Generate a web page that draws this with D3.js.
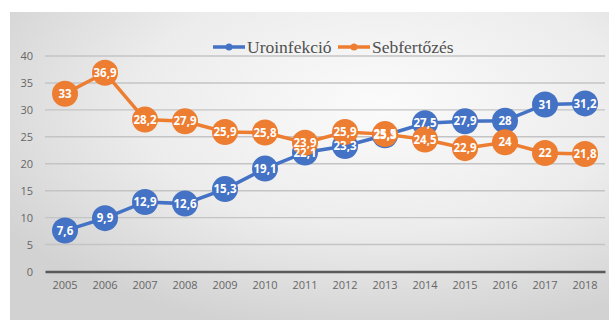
<!DOCTYPE html>
<html><head><meta charset="utf-8">
<script src="https://cdn.jsdelivr.net/npm/d3@7"></script>
<style>html,body{margin:0;padding:0;background:#fff;}svg{display:block;}</style>
</head><body>
<svg id="chart" width="609" height="320"></svg>
<script>
const years = ["2005","2006","2007","2008","2009","2010","2011","2012","2013","2014","2015","2016","2017","2018"];
const uroinfekcio = [7.6, 9.9, 12.9, 12.6, 15.3, 19.1, 22.1, 23.3, 25.3, 27.5, 27.9, 28, 31, 31.2];
const sebfertozes = [33, 36.9, 28.2, 27.9, 25.9, 25.8, 23.9, 25.9, 25.5, 24.5, 22.9, 24, 22, 21.8];
const yTicks = [0, 5, 10, 15, 20, 25, 30, 35, 40];
const seriesNames = ["Uroinfekció", "Sebfertőzés"];
const colors = ["#4472C4", "#ED7D31"];

const svg = d3.select("#chart");
const defs = svg.append("defs");
const grad = defs.append("radialGradient").attr("id","bg")
  .attr("cx","62%").attr("cy","30%").attr("r","75%");
grad.append("stop").attr("offset","0%").attr("stop-color","#fbfbfb");
grad.append("stop").attr("offset","55%").attr("stop-color","#ececec");
grad.append("stop").attr("offset","100%").attr("stop-color","#d2d2d2");
svg.append("rect").attr("x",10).attr("y",12).attr("width",599).attr("height",308).attr("fill","url(#bg)");

const x = d3.scaleBand().domain(years).range([45, 605]);
const y = d3.scaleLinear().domain([0, 40]).range([271.5, 56]);

// gridlines
svg.append("g").selectAll("line").data(yTicks.filter(d => d > 0)).join("line")
  .attr("x1", 45).attr("x2", 605)
  .attr("y1", d => y(d)).attr("y2", d => y(d))
  .attr("stroke", "#c4c4c4").attr("stroke-width", 1.4);

// y axis labels
const yAxis = d3.axisLeft(y).tickValues(yTicks).tickSize(0).tickPadding(0);
const gy = svg.append("g").attr("transform","translate(33,0)").call(yAxis);
gy.select(".domain").remove();
gy.selectAll("text").attr("font-family","'Open Sans', sans-serif").attr("font-size",11).attr("fill","#666");

// x axis
const xAxis = d3.axisBottom(x).tickSize(0).tickPadding(0);
const gx = svg.append("g").attr("transform", `translate(0,${y(0)})`).call(xAxis);
gx.select(".domain").attr("stroke","#5a5a5a").attr("stroke-width",2.6);
gx.selectAll("text").attr("dy", "1.55em").attr("font-family","'Open Sans', sans-serif").attr("font-size",11).attr("fill","#666");

const fmt = v => String(v).replace(".", ",");
const data = [uroinfekcio, sebfertozes];
const line = d3.line().x((d,i) => x(years[i]) + x.bandwidth()/2).y(d => y(d));

data.forEach((vals, s) => {
  const g = svg.append("g");
  g.append("path").datum(vals).attr("d", line).attr("fill","none")
    .attr("stroke", colors[s]).attr("stroke-width", 3.5);
  g.selectAll("circle").data(vals).join("circle")
    .attr("cx", (d,i) => x(years[i]) + x.bandwidth()/2)
    .attr("cy", d => y(d)).attr("r", 13)
    .attr("fill", colors[s]);
});
data.forEach((vals, s) => {
  svg.append("g").selectAll("text").data(vals).join("text")
    .attr("x", (d,i) => x(years[i]) + x.bandwidth()/2)
    .attr("y", d => y(d)).attr("dy", "0.36em")
    .attr("text-anchor","middle")
    .attr("font-family","'Open Sans', sans-serif").attr("font-weight","bold")
    .attr("font-size", 11.5).attr("fill","#fff")
    .text(fmt);
});

// legend
const legendX = [213, 338];
seriesNames.forEach((name, s) => {
  const g = svg.append("g").attr("transform", `translate(${legendX[s]},47)`);
  g.append("line").attr("x1",0).attr("x2",32).attr("y1",0).attr("y2",0)
    .attr("stroke",colors[s]).attr("stroke-width",3.5);
  g.append("circle").attr("cx",16).attr("cy",0).attr("r",3.5).attr("fill",colors[s]);
  g.append("text").attr("x",34).attr("y",0).attr("dy","0.33em")
    .attr("font-family","'Liberation Serif', serif").attr("font-size",17.5)
    .attr("fill","#505050").text(name);
});
</script>
</body></html>
